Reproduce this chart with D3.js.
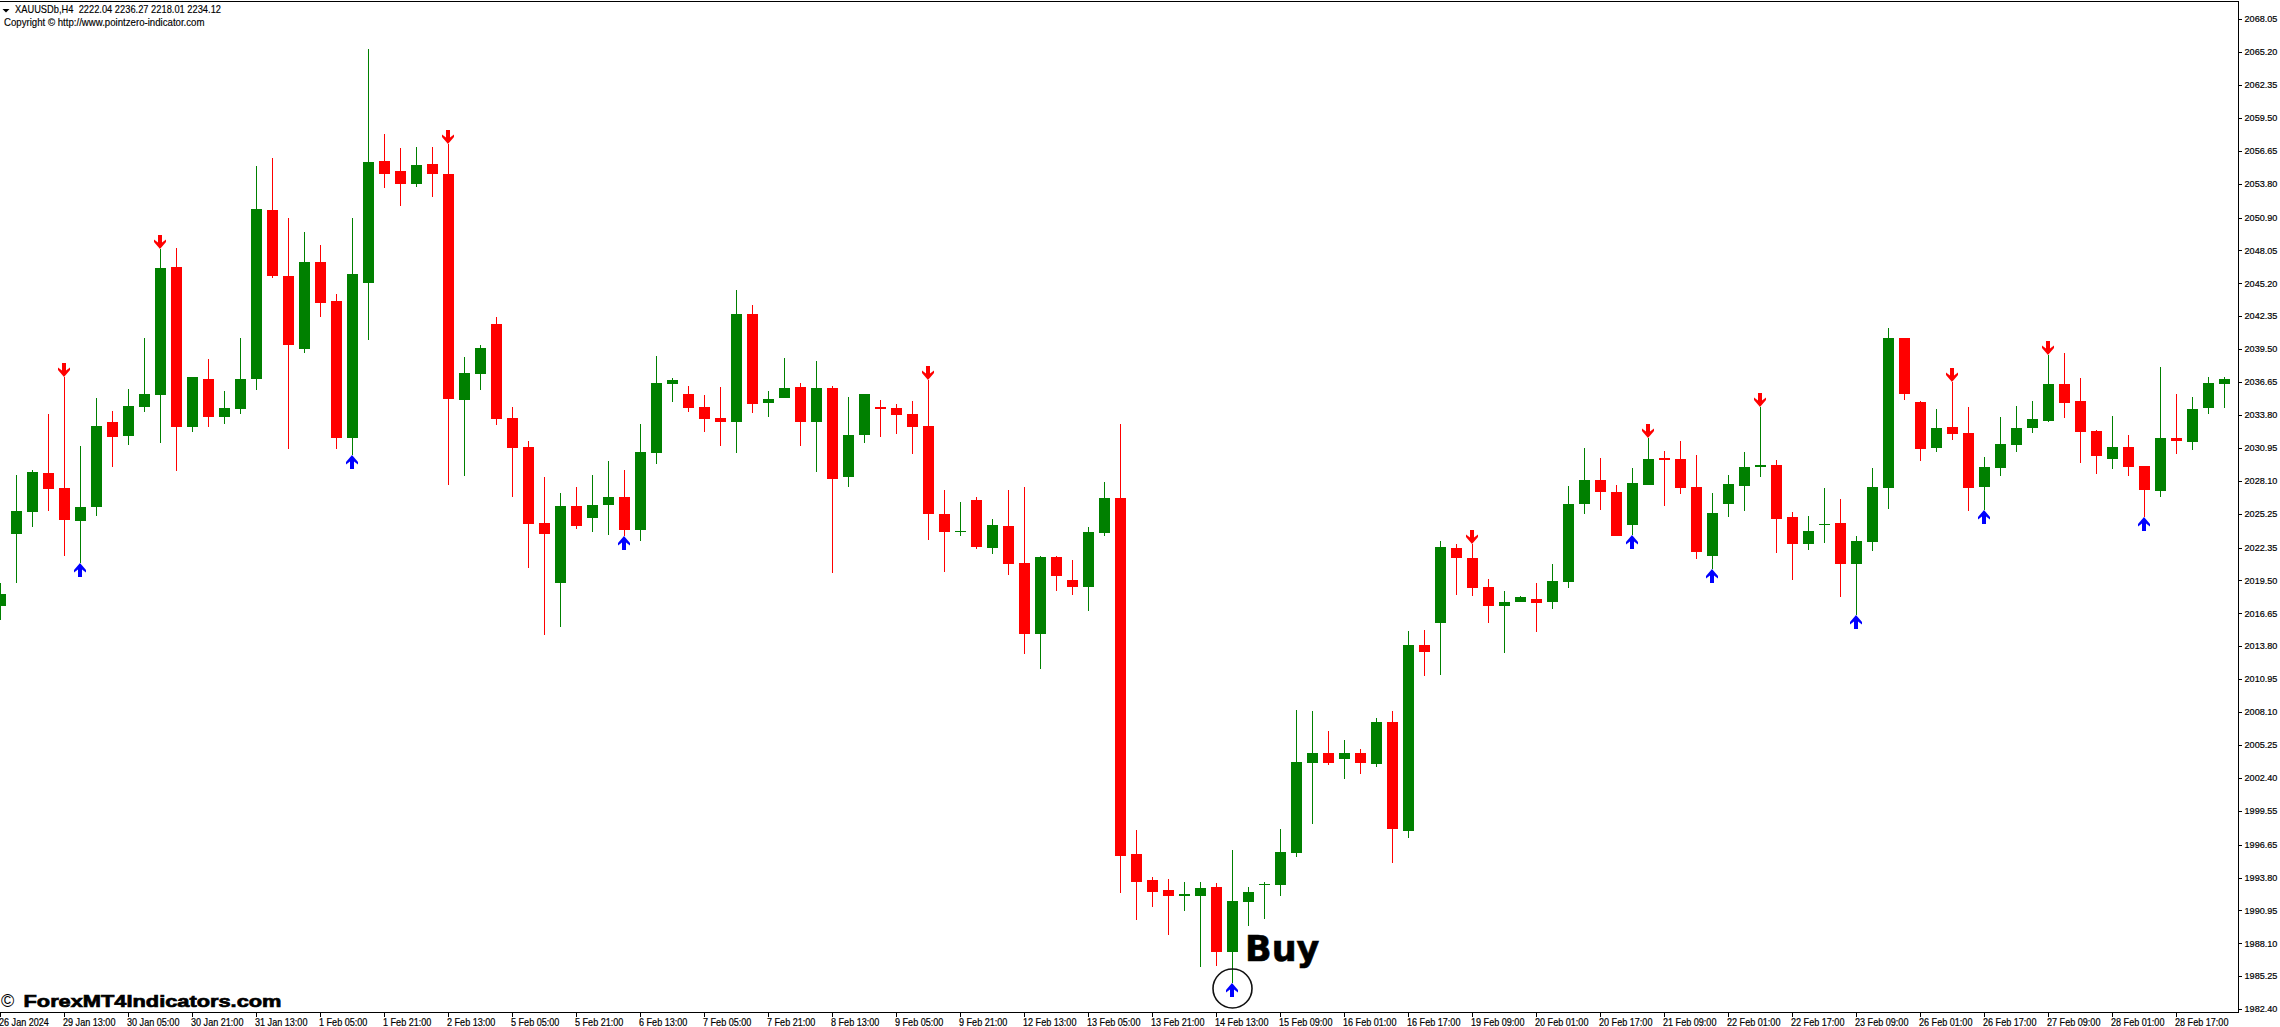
<!DOCTYPE html>
<html>
<head>
<meta charset="utf-8">
<title>XAUUSDb,H4</title>
<script src="https://cdn.jsdelivr.net/npm/d3@7"></script>
<style>
    html, body { margin: 0; padding: 0; background: #fff; overflow: hidden; }
    svg { display: block; }
    text { font-family: "Liberation Sans", Arial, sans-serif; fill: #000; white-space: pre; }
</style>
</head>
<body>
<svg id="chart" width="2280" height="1027"></svg>
<script>
// H4 candles (one row = 10 bars)
const opens = [
    2017.29, 2023.53, 2025.43, 2028.80, 2027.51, 2024.65, 2025.86, 2033.22, 2032.01, 2034.51,
    2035.55, 2046.62, 2032.78, 2036.94, 2033.65, 2034.34, 2036.94, 2051.55, 2045.85, 2039.53,
    2047.06, 2043.68, 2031.83, 2045.24, 2055.79, 2054.93, 2053.80, 2055.53, 2054.67, 2035.12,
    2037.37, 2041.69, 2033.56, 2031.05, 2024.48, 2019.29, 2025.95, 2024.91, 2026.04, 2026.73,
    2023.87, 2030.53, 2036.50, 2035.64, 2034.51, 2033.56, 2033.22, 2042.56, 2034.86, 2035.29,
    2036.24, 2033.22, 2036.16, 2028.46, 2032.09, 2034.51, 2034.43, 2033.91, 2032.87, 2025.26,
    2023.70, 2026.47, 2022.32, 2024.22, 2021.02, 2014.87, 2021.54, 2019.55, 2018.94, 2023.61,
    2026.64, 1995.84, 1993.59, 1992.72, 1992.21, 1992.21, 1992.98, 1987.36, 1991.69, 1993.16,
    1993.16, 1995.92, 2003.71, 2004.57, 2004.06, 2004.57, 2003.62, 2007.26, 1997.83, 2013.92,
    2015.82, 2022.32, 2021.45, 2018.94, 2017.29, 2017.64, 2017.90, 2017.64, 2019.38, 2026.12,
    2028.20, 2027.16, 2024.31, 2027.77, 2030.10, 2030.02, 2027.59, 2021.63, 2026.12, 2027.68,
    2029.32, 2029.50, 2025.00, 2022.66, 2024.31, 2024.48, 2020.93, 2022.84, 2027.51, 2040.48,
    2034.95, 2030.97, 2032.78, 2032.26, 2027.59, 2029.24, 2031.23, 2032.70, 2033.30, 2036.50,
    2035.03, 2032.44, 2030.02, 2031.05, 2029.41, 2027.24, 2031.83, 2031.49, 2034.43, 2036.50
];
const highs = [
    2019.29, 2028.63, 2029.06, 2033.91, 2037.11, 2031.14, 2035.29, 2034.17, 2036.07, 2040.48,
    2048.18, 2048.27, 2037.11, 2038.67, 2035.90, 2040.48, 2055.36, 2056.05, 2050.86, 2049.65,
    2048.53, 2044.29, 2050.86, 2065.48, 2058.13, 2056.92, 2057.00, 2057.00, 2057.26, 2038.84,
    2039.88, 2042.30, 2034.51, 2031.57, 2028.46, 2027.07, 2027.59, 2028.63, 2029.84, 2029.06,
    2033.04, 2038.93, 2037.02, 2036.33, 2035.55, 2036.24, 2044.63, 2043.34, 2035.90, 2038.75,
    2036.59, 2038.49, 2036.33, 2035.38, 2035.64, 2035.12, 2034.77, 2035.03, 2036.85, 2027.33,
    2026.30, 2026.73, 2024.83, 2027.33, 2027.59, 2021.63, 2021.63, 2021.28, 2024.13, 2028.03,
    2033.04, 1997.91, 1993.85, 1993.68, 1993.42, 1993.42, 1993.33, 1996.18, 1992.98, 1993.42,
    1998.00, 2008.29, 2008.21, 2006.48, 2005.70, 2004.92, 2007.60, 2008.21, 2015.13, 2015.21,
    2022.92, 2022.66, 2022.66, 2019.64, 2018.60, 2018.17, 2019.29, 2020.93, 2027.68, 2030.97,
    2030.10, 2027.77, 2029.24, 2031.83, 2030.71, 2031.57, 2030.36, 2027.07, 2028.63, 2030.62,
    2034.51, 2029.93, 2025.43, 2025.09, 2027.51, 2026.56, 2023.36, 2029.24, 2041.35, 2040.48,
    2035.03, 2034.34, 2036.68, 2034.51, 2030.19, 2033.65, 2034.60, 2035.03, 2039.01, 2039.18,
    2037.02, 2032.52, 2033.74, 2032.09, 2029.41, 2037.97, 2035.64, 2035.38, 2037.11, 2037.11
];
const lows = [
    2016.08, 2019.29, 2024.13, 2025.52, 2021.63, 2021.02, 2025.09, 2029.32, 2031.23, 2034.08,
    2031.40, 2028.98, 2032.35, 2032.78, 2033.04, 2033.91, 2035.98, 2045.67, 2030.88, 2039.18,
    2042.30, 2030.88, 2030.36, 2040.31, 2053.46, 2051.90, 2053.54, 2052.68, 2027.77, 2028.55,
    2035.98, 2032.96, 2026.73, 2020.59, 2014.78, 2015.47, 2023.96, 2023.70, 2023.44, 2023.36,
    2022.92, 2029.58, 2034.95, 2034.08, 2032.35, 2031.14, 2030.53, 2034.00, 2033.65, 2035.29,
    2031.14, 2028.89, 2020.15, 2027.59, 2031.40, 2031.92, 2032.18, 2030.45, 2023.01, 2020.24,
    2023.36, 2022.23, 2021.80, 2019.98, 2013.14, 2011.84, 2018.60, 2018.25, 2016.86, 2023.36,
    1992.46, 1990.13, 1991.25, 1988.83, 1990.91, 1986.06, 1986.15, 1984.68, 1989.61, 1990.22,
    1992.21, 1995.58, 1998.43, 2003.54, 2002.33, 2002.76, 2003.36, 1995.06, 1997.22, 2011.24,
    2011.32, 2018.25, 2018.17, 2015.82, 2013.22, 2017.64, 2015.04, 2017.03, 2018.86, 2025.26,
    2025.60, 2023.36, 2023.44, 2027.77, 2025.95, 2026.99, 2021.37, 2020.50, 2025.00, 2025.52,
    2028.46, 2021.88, 2019.55, 2022.14, 2022.75, 2018.08, 2016.51, 2022.06, 2025.69, 2035.12,
    2029.84, 2030.62, 2031.66, 2025.52, 2025.60, 2028.55, 2030.62, 2032.26, 2033.22, 2033.56,
    2029.67, 2028.72, 2029.15, 2028.55, 2025.00, 2026.73, 2030.45, 2030.79, 2033.91, 2034.43
];
const closes = [
    2018.34, 2025.52, 2028.89, 2027.42, 2024.74, 2025.86, 2032.87, 2031.92, 2034.60, 2035.64,
    2046.54, 2032.78, 2037.11, 2033.65, 2034.43, 2036.94, 2051.64, 2045.85, 2039.88, 2047.06,
    2043.51, 2031.83, 2046.02, 2055.71, 2054.67, 2053.80, 2055.45, 2054.67, 2035.21, 2037.45,
    2039.62, 2033.48, 2030.97, 2024.39, 2023.53, 2025.95, 2024.22, 2026.04, 2026.73, 2023.87,
    2030.62, 2036.59, 2036.85, 2034.43, 2033.48, 2033.22, 2042.56, 2034.77, 2035.21, 2036.16,
    2033.22, 2036.16, 2028.29, 2032.09, 2035.64, 2034.34, 2033.82, 2032.78, 2025.26, 2023.70,
    2023.79, 2022.40, 2024.31, 2020.93, 2014.87, 2021.54, 2019.90, 2018.94, 2023.70, 2026.64,
    1995.67, 1993.42, 1992.55, 1992.21, 1992.38, 1992.90, 1987.36, 1991.77, 1992.55, 1993.24,
    1996.01, 2003.80, 2004.57, 2003.71, 2004.57, 2003.71, 2007.26, 1998.00, 2013.92, 2013.31,
    2022.40, 2021.45, 2018.86, 2017.29, 2017.64, 2018.08, 2017.55, 2019.46, 2026.12, 2028.20,
    2027.16, 2023.36, 2027.94, 2030.02, 2029.93, 2027.51, 2021.97, 2025.35, 2027.85, 2029.32,
    2029.50, 2024.83, 2022.66, 2023.79, 2024.39, 2020.93, 2022.92, 2027.59, 2040.48, 2035.64,
    2030.88, 2032.70, 2032.18, 2027.51, 2029.32, 2031.31, 2032.70, 2033.48, 2036.50, 2034.86,
    2032.35, 2030.28, 2031.05, 2029.32, 2027.33, 2031.83, 2031.57, 2034.34, 2036.59, 2036.94
];

// Bars with a signal arrow
const upSignals = [5, 22, 39, 77, 102, 107, 116, 124, 134];
const downSignals = [4, 10, 28, 58, 92, 103, 110, 122, 128];
const buyBar = 77;

// Price axis labels
const priceTicks = [
    2068.05, 2065.20, 2062.35, 2059.50, 2056.65, 2053.80, 2050.90, 2048.05, 2045.20, 2042.35, 2039.50,
    2036.65, 2033.80, 2030.95, 2028.10, 2025.25, 2022.35, 2019.50, 2016.65, 2013.80, 2010.95,
    2008.10, 2005.25, 2002.40, 1999.55, 1996.65, 1993.80, 1990.95, 1988.10, 1985.25, 1982.40
];

// Time axis labels, one every 4 bars
const timeTicks = [
    "26 Jan 2024", "29 Jan 13:00", "30 Jan 05:00", "30 Jan 21:00", "31 Jan 13:00", "1 Feb 05:00", "1 Feb 21:00",
    "2 Feb 13:00", "5 Feb 05:00", "5 Feb 21:00", "6 Feb 13:00", "7 Feb 05:00", "7 Feb 21:00", "8 Feb 13:00",
    "9 Feb 05:00", "9 Feb 21:00", "12 Feb 13:00", "13 Feb 05:00", "13 Feb 21:00", "14 Feb 13:00", "15 Feb 09:00",
    "16 Feb 01:00", "16 Feb 17:00", "19 Feb 09:00", "20 Feb 01:00", "20 Feb 17:00", "21 Feb 09:00", "22 Feb 01:00",
    "22 Feb 17:00", "23 Feb 09:00", "26 Feb 01:00", "26 Feb 17:00", "27 Feb 09:00", "28 Feb 01:00", "28 Feb 17:00"
];

const GREEN = "#008000", RED = "#ff0000", BLUE = "#0000ff";
const plotRight = 2238, plotBottom = 1012;

const svg = d3.select("#chart");
svg.append("rect").attr("width", 2280).attr("height", 1027).attr("fill", "#fff");

const bars = d3.range(opens.length);
const x = d3.scaleLinear().domain([0, 139]).range([0.5, 2224.5]);
const y = d3.scaleLinear().domain([1982.40, 2068.05]).range([1009.3, 19.3]);
const py = p => Math.round(y(p));
const barColor = i => closes[i] >= opens[i] ? GREEN : RED;

const candles = svg.append("g").attr("shape-rendering", "crispEdges");

// Wicks
candles.selectAll("rect.wick").data(bars).join("rect")
    .attr("class", "wick")
    .attr("x", i => x(i) - 0.5)
    .attr("width", 1)
    .attr("y", i => py(highs[i]))
    .attr("height", i => py(lows[i]) - py(highs[i]))
    .attr("fill", barColor);

// Bodies
candles.selectAll("rect.body").data(bars).join("rect")
    .attr("class", "body")
    .attr("x", i => x(i) - 5.5)
    .attr("width", 11)
    .attr("y", i => py(Math.max(opens[i], closes[i])))
    .attr("height", i => Math.max(1, py(Math.min(opens[i], closes[i])) - py(Math.max(opens[i], closes[i]))))
    .attr("fill", barColor);

// Signal arrows, the tip sits on the low (up) or the high (down)
const arrowShape = d3.line()([[0, 0], [6, 7], [6, 9.5], [2, 6.5], [2, 14], [-2, 14], [-2, 6.5], [-6, 9.5], [-6, 7]]) + "Z";

svg.append("g").selectAll("path").data(upSignals).join("path")
    .attr("d", arrowShape)
    .attr("fill", BLUE)
    .attr("transform", i => `translate(${x(i) - 0.5},${py(lows[i])})`);

svg.append("g").selectAll("path").data(downSignals).join("path")
    .attr("d", arrowShape)
    .attr("fill", RED)
    .attr("transform", i => `translate(${x(i) - 0.5},${py(highs[i])}) scale(1,-1)`);

// Frame
const frame = svg.append("g").attr("stroke", "#000").attr("shape-rendering", "crispEdges");
frame.append("line").attr("x1", 0).attr("x2", plotRight).attr("y1", 1.5).attr("y2", 1.5);
frame.append("line").attr("x1", plotRight + 0.5).attr("x2", plotRight + 0.5).attr("y1", 1).attr("y2", plotBottom + 1);
frame.append("line").attr("x1", 0).attr("x2", plotRight + 1).attr("y1", plotBottom + 0.5).attr("y2", plotBottom + 0.5);

// Squeeze a label to the width it has in the terminal font
function fit(sel, factor) {
    sel.each(function () {
        const t = d3.select(this);
        t.attr("textLength", this.getComputedTextLength() * factor).attr("lengthAdjust", "spacingAndGlyphs");
    });
}

// Price axis
const yAxis = svg.append("g")
    .attr("transform", `translate(${plotRight + 0.5},0)`)
    .call(d3.axisRight(y).tickValues(priceTicks).tickFormat(d3.format(".2f")).tickSize(3).tickPadding(3).offset(0));
yAxis.select(".domain").remove();
yAxis.selectAll("line").attr("stroke", "#000").attr("shape-rendering", "crispEdges")
    .attr("transform", d => `translate(0,${py(d) + 0.5 - y(d)})`);
yAxis.selectAll("text")
    .attr("font-family", "Liberation Sans")
    .attr("font-size", 9.8)
    .attr("fill", "#000")
    .attr("stroke", "#000")
    .attr("stroke-width", 0.2)
    .call(fit, 0.93);

// Time axis
const xAxis = svg.append("g")
    .attr("transform", `translate(0,${plotBottom + 0.5})`)
    .call(d3.axisBottom(x).tickValues(d3.range(0, 140, 4)).tickFormat(i => timeTicks[i / 4]).tickSize(4).tickPadding(2).offset(0));
xAxis.select(".domain").remove();
xAxis.selectAll("line").attr("stroke", "#000").attr("shape-rendering", "crispEdges");
xAxis.selectAll("text")
    .attr("text-anchor", "start")
    .attr("x", -1.5)
    .attr("font-family", "Liberation Sans")
    .attr("font-size", 10.2)
    .attr("fill", "#000")
    .attr("stroke", "#000")
    .attr("stroke-width", 0.2)
    .call(fit, 0.89);

// Header text
svg.append("path").attr("d", d3.line()([[2.5, 9], [9.5, 9], [6, 12.5]]) + "Z").attr("fill", "#000");
svg.append("text").attr("x", 15).attr("y", 13).attr("font-size", 10.4)
    .attr("stroke", "#000").attr("stroke-width", 0.15)
    .attr("textLength", 206).attr("lengthAdjust", "spacingAndGlyphs")
    .text("XAUUSDb,H4  2222.04 2236.27 2218.01 2234.12");
svg.append("text").attr("x", 4).attr("y", 26).attr("font-size", 10.4)
    .attr("stroke", "#000").attr("stroke-width", 0.15)
    .attr("textLength", 200.5).attr("lengthAdjust", "spacingAndGlyphs")
    .text("Copyright © http://www.pointzero-indicator.com");

// Watermark
svg.append("text").attr("x", 1).attr("y", 1007).attr("font-size", 18).text("©");
svg.append("text").attr("x", 23.5).attr("y", 1006.7).attr("font-size", 17).attr("font-weight", "bold")
    .attr("stroke", "#000").attr("stroke-width", 0.7)
    .attr("textLength", 258).attr("lengthAdjust", "spacingAndGlyphs")
    .text("ForexMT4Indicators.com");

// Buy annotation around the signal bar
svg.append("circle")
    .attr("cx", x(buyBar))
    .attr("cy", py(lows[buyBar]) + 5.5)
    .attr("r", 19.5)
    .attr("fill", "none")
    .attr("stroke", "#111")
    .attr("stroke-width", 1.6);
svg.append("text")
    .attr("x", x(buyBar) + 12.5)
    .attr("y", 961)
    .style("font-family", "'DejaVu Sans'")
    .attr("font-weight", "bold")
    .attr("font-size", 35)
    .attr("stroke", "#000")
    .attr("stroke-width", 0.6)
    .text("Buy");
</script>
</body>
</html>
